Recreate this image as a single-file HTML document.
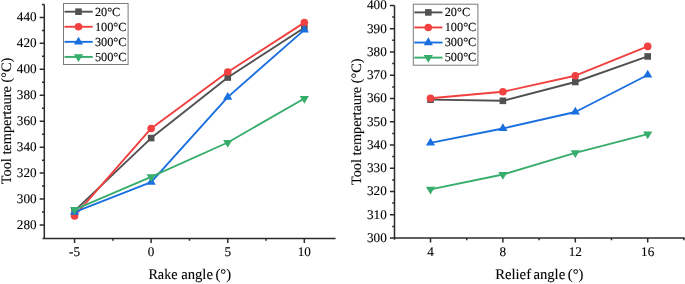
<!DOCTYPE html>
<html><head><meta charset="utf-8"><title>Tool temperature charts</title>
<style>html,body{margin:0;padding:0;background:#fff;}body{width:685px;height:284px;overflow:hidden;}svg{display:block;will-change:transform;}</style>
</head><body>
<svg width="685" height="284" viewBox="0 0 685 284" font-family='"Liberation Serif", serif' fill="#000" text-rendering="geometricPrecision"><style>text{stroke:#000;stroke-width:0.1px}</style><rect width="685" height="284" fill="#fff"/><path d="M44.3,4.45 V239.1 M42.5,238.4 H335.58" fill="none" stroke="#2b2b2b" stroke-width="1.5"/><path d="M44.3,225.03 h-4.6M44.3,199.07 h-4.6M44.3,173.12 h-4.6M44.3,147.18 h-4.6M44.3,121.22 h-4.6M44.3,95.27 h-4.6M44.3,69.32 h-4.6M44.3,43.37 h-4.6M44.3,17.42 h-4.6M44.3,212.05 h-2.3M44.3,186.10 h-2.3M44.3,160.15 h-2.3M44.3,134.20 h-2.3M44.3,108.25 h-2.3M44.3,82.30 h-2.3M44.3,56.35 h-2.3M44.3,30.40 h-2.3M44.3,4.45 h-2.3M74.56,238.4 v4.6M151.15,238.4 v4.6M227.75,238.4 v4.6M304.34,238.4 v4.6M112.86,238.4 v2.3M189.45,238.4 v2.3M266.05,238.4 v2.3" fill="none" stroke="#2b2b2b" stroke-width="1.5"/><text x="36.60" y="228.93" font-size="13.2" text-anchor="end" >280</text><text x="36.60" y="202.97" font-size="13.2" text-anchor="end" >300</text><text x="36.60" y="177.03" font-size="13.2" text-anchor="end" >320</text><text x="36.60" y="151.08" font-size="13.2" text-anchor="end" >340</text><text x="36.60" y="125.12" font-size="13.2" text-anchor="end" >360</text><text x="36.60" y="99.17" font-size="13.2" text-anchor="end" >380</text><text x="36.60" y="73.22" font-size="13.2" text-anchor="end" >400</text><text x="36.60" y="47.27" font-size="13.2" text-anchor="end" >420</text><text x="36.60" y="21.32" font-size="13.2" text-anchor="end" >440</text><text x="74.56" y="256.40" font-size="13.2" text-anchor="middle" >-5</text><text x="151.15" y="256.40" font-size="13.2" text-anchor="middle" >0</text><text x="227.75" y="256.40" font-size="13.2" text-anchor="middle" >5</text><text x="304.34" y="256.40" font-size="13.2" text-anchor="middle" >10</text><text x="148.41" y="279.00" font-size="14.7" text-anchor="start" textLength="29.1" lengthAdjust="spacingAndGlyphs">Rake</text><text x="181.15" y="279.00" font-size="14.7" text-anchor="start" >angle</text><text x="215.44" y="279.00" font-size="14.7" text-anchor="start" >(°)</text><text transform="translate(11.1,121.0) rotate(-90)" font-size="14.35" text-anchor="middle">Tool tempertaure (°C)</text><polyline points="74.56,210.88 151.15,138.09 227.75,77.50 304.34,27.80" fill="none" stroke="#515151" stroke-width="1.9" stroke-linejoin="round"/><rect x="71.26" y="207.58" width="6.6" height="6.6" fill="#515151"/><rect x="147.85" y="134.79" width="6.6" height="6.6" fill="#515151"/><rect x="224.45" y="74.20" width="6.6" height="6.6" fill="#515151"/><rect x="301.04" y="24.50" width="6.6" height="6.6" fill="#515151"/><polyline points="74.56,215.94 151.15,128.49 227.75,72.05 304.34,22.61" fill="none" stroke="#F14040" stroke-width="1.9" stroke-linejoin="round"/><circle cx="74.56" cy="215.94" r="3.8" fill="#F14040"/><circle cx="151.15" cy="128.49" r="3.8" fill="#F14040"/><circle cx="227.75" cy="72.05" r="3.8" fill="#F14040"/><circle cx="304.34" cy="22.61" r="3.8" fill="#F14040"/><polyline points="74.56,212.05 151.15,182.21 227.75,97.09 304.34,29.88" fill="none" stroke="#1A6FDF" stroke-width="1.9" stroke-linejoin="round"/><polygon points="74.56,206.85 79.16,214.65 69.96,214.65" fill="#1A6FDF"/><polygon points="151.15,177.01 155.75,184.81 146.55,184.81" fill="#1A6FDF"/><polygon points="227.75,91.89 232.35,99.69 223.15,99.69" fill="#1A6FDF"/><polygon points="304.34,24.68 308.94,32.48 299.74,32.48" fill="#1A6FDF"/><polyline points="74.56,209.71 151.15,176.89 227.75,142.50 304.34,98.52" fill="none" stroke="#37AD6B" stroke-width="1.9" stroke-linejoin="round"/><polygon points="69.96,207.11 79.16,207.11 74.56,214.91" fill="#37AD6B"/><polygon points="146.55,174.29 155.75,174.29 151.15,182.09" fill="#37AD6B"/><polygon points="223.15,139.90 232.35,139.90 227.75,147.70" fill="#37AD6B"/><polygon points="299.74,95.92 308.94,95.92 304.34,103.72" fill="#37AD6B"/><rect x="63.50" y="3.50" width="64.6" height="61" fill="none" stroke="#7a7a7a" stroke-width="1"/><line x1="64.50" y1="11.70" x2="92.70" y2="11.70" stroke="#515151" stroke-width="1.9"/><rect x="75.20" y="8.40" width="6.6" height="6.6" fill="#515151"/><text x="94.90" y="15.50" font-size="12.3" text-anchor="start" >20°C</text><line x1="64.50" y1="26.77" x2="92.70" y2="26.77" stroke="#F14040" stroke-width="1.9"/><circle cx="78.50" cy="26.77" r="3.8" fill="#F14040"/><text x="94.90" y="30.57" font-size="12.3" text-anchor="start" >100°C</text><line x1="64.50" y1="41.84" x2="92.70" y2="41.84" stroke="#1A6FDF" stroke-width="1.9"/><polygon points="78.50,36.64 83.10,44.44 73.90,44.44" fill="#1A6FDF"/><text x="94.90" y="45.64" font-size="12.3" text-anchor="start" >300°C</text><line x1="64.50" y1="56.91" x2="92.70" y2="56.91" stroke="#37AD6B" stroke-width="1.9"/><polygon points="73.90,54.31 83.10,54.31 78.50,62.11" fill="#37AD6B"/><text x="94.90" y="60.71" font-size="12.3" text-anchor="start" >500°C</text><path d="M394.5,5.50 V239.8 M394.5,238.0 H684.70" fill="none" stroke="#2b2b2b" stroke-width="1.5"/><path d="M394.5,238.00 h-4.6M394.5,214.75 h-4.6M394.5,191.50 h-4.6M394.5,168.25 h-4.6M394.5,145.00 h-4.6M394.5,121.75 h-4.6M394.5,98.50 h-4.6M394.5,75.25 h-4.6M394.5,52.00 h-4.6M394.5,28.75 h-4.6M394.5,5.50 h-4.6M394.5,226.38 h-2.3M394.5,203.12 h-2.3M394.5,179.88 h-2.3M394.5,156.62 h-2.3M394.5,133.38 h-2.3M394.5,110.12 h-2.3M394.5,86.88 h-2.3M394.5,63.62 h-2.3M394.5,40.37 h-2.3M394.5,17.12 h-2.3M430.50,238.0 v4.6M502.90,238.0 v4.6M575.30,238.0 v4.6M647.70,238.0 v4.6M466.70,238.0 v2.3M539.10,238.0 v2.3M611.50,238.0 v2.3M683.90,238.0 v2.3" fill="none" stroke="#2b2b2b" stroke-width="1.5"/><text x="386.80" y="241.90" font-size="13.2" text-anchor="end" >300</text><text x="386.80" y="218.65" font-size="13.2" text-anchor="end" >310</text><text x="386.80" y="195.40" font-size="13.2" text-anchor="end" >320</text><text x="386.80" y="172.15" font-size="13.2" text-anchor="end" >330</text><text x="386.80" y="148.90" font-size="13.2" text-anchor="end" >340</text><text x="386.80" y="125.65" font-size="13.2" text-anchor="end" >350</text><text x="386.80" y="102.40" font-size="13.2" text-anchor="end" >360</text><text x="386.80" y="79.15" font-size="13.2" text-anchor="end" >370</text><text x="386.80" y="55.90" font-size="13.2" text-anchor="end" >380</text><text x="386.80" y="32.65" font-size="13.2" text-anchor="end" >390</text><text x="386.80" y="9.40" font-size="13.2" text-anchor="end" >400</text><text x="430.50" y="256.40" font-size="13.2" text-anchor="middle" >4</text><text x="502.90" y="256.40" font-size="13.2" text-anchor="middle" >8</text><text x="575.30" y="256.40" font-size="13.2" text-anchor="middle" >12</text><text x="647.70" y="256.40" font-size="13.2" text-anchor="middle" >16</text><text x="495.15" y="279.20" font-size="14.7" text-anchor="start" >Relief</text><text x="533.40" y="279.20" font-size="14.7" text-anchor="start" >angle</text><text x="567.78" y="279.20" font-size="14.7" text-anchor="start" >(°)</text><text transform="translate(360.6,121.8) rotate(-90)" font-size="14.35" text-anchor="middle">Tool tempertaure (°C)</text><polyline points="430.50,99.66 502.90,100.82 575.30,81.99 647.70,56.42" fill="none" stroke="#515151" stroke-width="1.9" stroke-linejoin="round"/><rect x="427.20" y="96.36" width="6.6" height="6.6" fill="#515151"/><rect x="499.60" y="97.52" width="6.6" height="6.6" fill="#515151"/><rect x="572.00" y="78.69" width="6.6" height="6.6" fill="#515151"/><rect x="644.40" y="53.12" width="6.6" height="6.6" fill="#515151"/><polyline points="430.50,98.27 502.90,91.76 575.30,75.71 647.70,46.42" fill="none" stroke="#F14040" stroke-width="1.9" stroke-linejoin="round"/><circle cx="430.50" cy="98.27" r="3.8" fill="#F14040"/><circle cx="502.90" cy="91.76" r="3.8" fill="#F14040"/><circle cx="575.30" cy="75.71" r="3.8" fill="#F14040"/><circle cx="647.70" cy="46.42" r="3.8" fill="#F14040"/><polyline points="430.50,142.91 502.90,128.49 575.30,111.99 647.70,75.02" fill="none" stroke="#1A6FDF" stroke-width="1.9" stroke-linejoin="round"/><polygon points="430.50,137.71 435.10,145.51 425.90,145.51" fill="#1A6FDF"/><polygon points="502.90,123.29 507.50,131.09 498.30,131.09" fill="#1A6FDF"/><polygon points="575.30,106.79 579.90,114.59 570.70,114.59" fill="#1A6FDF"/><polygon points="647.70,69.82 652.30,77.62 643.10,77.62" fill="#1A6FDF"/><polyline points="430.50,189.41 502.90,174.53 575.30,152.90 647.70,134.07" fill="none" stroke="#37AD6B" stroke-width="1.9" stroke-linejoin="round"/><polygon points="425.90,186.81 435.10,186.81 430.50,194.61" fill="#37AD6B"/><polygon points="498.30,171.93 507.50,171.93 502.90,179.73" fill="#37AD6B"/><polygon points="570.70,150.30 579.90,150.30 575.30,158.10" fill="#37AD6B"/><polygon points="643.10,131.47 652.30,131.47 647.70,139.27" fill="#37AD6B"/><rect x="413.30" y="4.20" width="64.6" height="61" fill="none" stroke="#7a7a7a" stroke-width="1"/><line x1="414.30" y1="12.40" x2="442.50" y2="12.40" stroke="#515151" stroke-width="1.9"/><rect x="425.00" y="9.10" width="6.6" height="6.6" fill="#515151"/><text x="444.70" y="16.20" font-size="12.3" text-anchor="start" >20°C</text><line x1="414.30" y1="27.47" x2="442.50" y2="27.47" stroke="#F14040" stroke-width="1.9"/><circle cx="428.30" cy="27.47" r="3.8" fill="#F14040"/><text x="444.70" y="31.27" font-size="12.3" text-anchor="start" >100°C</text><line x1="414.30" y1="42.54" x2="442.50" y2="42.54" stroke="#1A6FDF" stroke-width="1.9"/><polygon points="428.30,37.34 432.90,45.14 423.70,45.14" fill="#1A6FDF"/><text x="444.70" y="46.34" font-size="12.3" text-anchor="start" >300°C</text><line x1="414.30" y1="57.61" x2="442.50" y2="57.61" stroke="#37AD6B" stroke-width="1.9"/><polygon points="423.70,55.01 432.90,55.01 428.30,62.81" fill="#37AD6B"/><text x="444.70" y="61.41" font-size="12.3" text-anchor="start" >500°C</text></svg>
</body></html>
